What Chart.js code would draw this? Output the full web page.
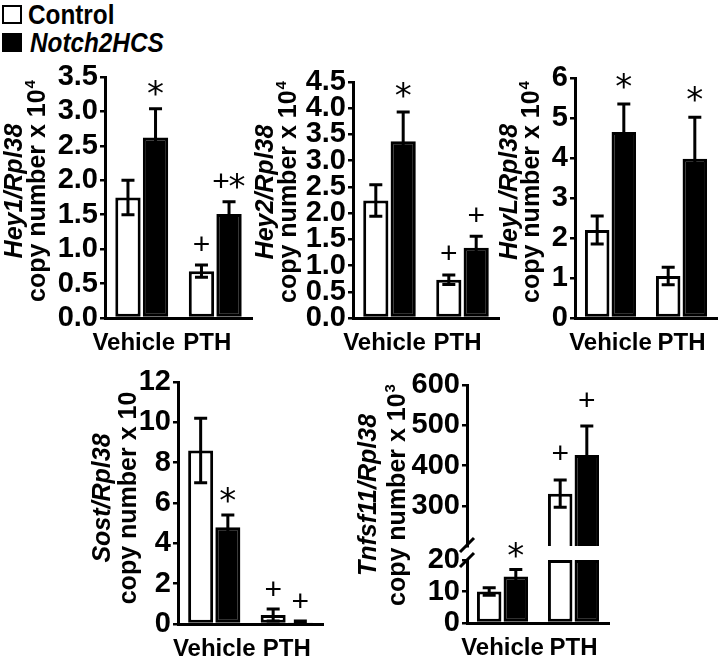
<!DOCTYPE html>
<html>
<head>
<meta charset="utf-8">
<script src="https://cdn.jsdelivr.net/npm/chart.js@4.4.0/dist/chart.umd.min.js"></script>
<style>
  body { margin: 0; background: #fff; width: 719px; height: 659px; position: relative; overflow: hidden; }
  canvas { position: absolute; }
  .box { position: absolute; left: 2px; width: 16px; height: 15px; border: 2.5px solid #000; }
  .lt { position: absolute; font: bold 27px "Liberation Sans", Arial, sans-serif; line-height: 27px;
        transform: scaleX(0.9); transform-origin: left top; white-space: nowrap; }
</style>
</head>
<body>
<div class="box" style="top:5px;background:#fff"></div>
<div class="lt" style="left:28px;top:2px">Control</div>
<div class="box" style="top:33px;background:#000"></div>
<div class="lt" style="left:30px;top:30px;font-style:italic">Notch2HCS</div>
<script>
const groups = ['Vehicle', 'PTH'];

const hey1Control = [1.75, 0.68];
const hey1ControlErr = [0.25, 0.09];
const hey1Notch = [2.62, 1.51];
const hey1NotchErr = [0.42, 0.18];
const hey1ControlMarks = ['', '+'];
const hey1NotchMarks = ['*', '+*'];
const hey1Ticks = [0, 0.5, 1.0, 1.5, 2.0, 2.5, 3.0, 3.5];

const hey2Control = [2.24, 0.73];
const hey2ControlErr = [0.3, 0.09];
const hey2Notch = [3.37, 1.34];
const hey2NotchErr = [0.56, 0.22];
const hey2ControlMarks = ['', '+'];
const hey2NotchMarks = ['*', '+'];
const hey2Ticks = [0, 0.5, 1.0, 1.5, 2.0, 2.5, 3.0, 3.5, 4.0, 4.5];

const heyLControl = [2.2, 1.05];
const heyLControlErr = [0.35, 0.22];
const heyLNotch = [4.65, 3.98];
const heyLNotchErr = [0.7, 1.04];
const heyLControlMarks = ['', ''];
const heyLNotchMarks = ['*', '*'];
const heyLTicks = [0, 1, 2, 3, 4, 5, 6];

const sostControl = [8.6, 0.45];
const sostControlErr = [1.6, 0.3];
const sostNotch = [4.8, 0.05];
const sostNotchErr = [0.6, 0.1];
const sostControlMarks = ['', '+'];
const sostNotchMarks = ['*', '+'];
const sostTicks = [0, 2, 4, 6, 8, 10, 12];

const tnfControl = [10, 330];
const tnfControlErr = [1.2, 34];
const tnfNotch = [14.8, 426];
const tnfNotchErr = [2.2, 72];
const tnfControlMarks = ['', '+'];
const tnfNotchMarks = ['*', '+'];
const tnfLowTicks = [0, 10, 20];
const tnfHighTicks = [300, 400, 500, 600];

const FONT = '"Liberation Sans", Arial, sans-serif';

function drawMarks(ctx, text, x, yc) {
  const chars = text.split('');
  const step = 16;
  chars.forEach((ch, k) => {
    ctx.font = ch === '*' ? '34px "DejaVu Sans", sans-serif' : '30px ' + FONT;
    const m = ctx.measureText(ch);
    const cx = x + (k - (chars.length - 1) / 2) * step;
    ctx.fillText(ch, cx, yc + (m.actualBoundingBoxAscent - m.actualBoundingBoxDescent) / 2);
  });
}

function drawTitle(ctx, o) {
  ctx.save();
  ctx.fillStyle = '#000';
  ctx.textBaseline = 'alphabetic';
  ctx.translate(o.t1x - o.L, o.ty - o.T);
  ctx.rotate(-Math.PI / 2);
  ctx.textAlign = 'center';
  ctx.font = 'italic bold 25px ' + FONT;
  ctx.fillText(o.title1, 0, 0);
  ctx.restore();

  ctx.save();
  ctx.fillStyle = '#000';
  ctx.textBaseline = 'alphabetic';
  ctx.translate(o.t2x - o.L, o.ty - o.T);
  ctx.rotate(-Math.PI / 2);
  const main = 'copy number x 10';
  ctx.font = 'bold 25px ' + FONT;
  const w1 = ctx.measureText(main).width;
  ctx.font = 'bold 15px ' + FONT;
  const w2 = o.sup ? ctx.measureText(o.sup).width + 1 : 0;
  const x0 = -(w1 + w2) / 2;
  ctx.textAlign = 'left';
  ctx.font = 'bold 25px ' + FONT;
  ctx.fillText(main, x0, 0);
  if (o.sup) {
    ctx.font = 'bold 15px ' + FONT;
    ctx.fillText(o.sup, x0 + w1 + 1, -10);
  }
  ctx.restore();
}

function panel(o) {
  const cv = document.createElement('canvas');
  cv.width = o.W; cv.height = o.H;
  cv.style.left = o.L + 'px'; cv.style.top = o.T + 'px';
  document.body.appendChild(cv);

  const inRange = v => v >= o.min && v <= o.max;
  const shown = arr => arr.map(v => v > o.max ? o.max : (v < o.min ? null : v));
  const showX = o.showX !== false;

  const extras = {
    id: 'extras',
    afterDatasetsDraw(chart) {
      const ctx = chart.ctx;
      const ys = chart.scales.y;
      const series = [o.control, o.notch];
      const errs = [o.controlErr, o.notchErr];
      const marks = [o.controlMarks, o.notchMarks];
      ctx.save();
      ctx.strokeStyle = '#000';
      ctx.fillStyle = '#000';
      ctx.lineWidth = 3;
      series.forEach((vals, di) => {
        const meta = chart.getDatasetMeta(di);
        vals.forEach((v, i) => {
          if (!inRange(v)) return;
          const x = meta.data[i].x;
          const yTop = ys.getPixelForValue(v + errs[di][i]);
          const yBot = ys.getPixelForValue(Math.max(v - errs[di][i], o.min));
          ctx.beginPath();
          ctx.moveTo(x, yTop); ctx.lineTo(x, yBot);
          ctx.moveTo(x - 6.5, yTop); ctx.lineTo(x + 6.5, yTop);
          ctx.moveTo(x - 6.5, yBot); ctx.lineTo(x + 6.5, yBot);
          ctx.stroke();
          if (marks[di][i]) {
            ctx.textAlign = 'center';
            ctx.textBaseline = 'alphabetic';
            drawMarks(ctx, marks[di][i], x, yTop - o.markGap);
          }
        });
      });
      ctx.restore();
      if (o.title1) drawTitle(ctx, o);
      if (o.breakMarks) {
        ctx.save();
        ctx.strokeStyle = '#000';
        ctx.lineWidth = 3;
        ctx.beginPath();
        o.breakMarks.forEach(b => {
          ctx.moveTo(b[0] - o.L, b[1] - o.T);
          ctx.lineTo(b[2] - o.L, b[3] - o.T);
        });
        ctx.stroke();
        ctx.restore();
      }
    }
  };

  return new Chart(cv, {
    type: 'bar',
    data: {
      labels: groups,
      datasets: [
        { label: 'Control', data: shown(o.control), backgroundColor: '#fff', borderColor: '#000', borderWidth: 3, borderSkipped: false },
        { label: 'Notch2HCS', data: shown(o.notch), backgroundColor: '#000', borderColor: '#000', borderWidth: 3, borderSkipped: false }
      ]
    },
    options: {
      responsive: false,
      animation: false,
      devicePixelRatio: 1,
      layout: { padding: { left: 0, top: o.area.t - o.T, right: o.L + o.W - o.area.r, bottom: 0 } },
      plugins: { legend: { display: false }, tooltip: { enabled: false } },
      datasets: { bar: { categoryPercentage: 0.75, barPercentage: 0.92 } },
      scales: {
        x: {
          grid: { display: false },
          border: { display: showX, color: '#000', width: 3 },
          ticks: { display: showX, color: '#000', padding: 3, labelOffset: o.labelOffset || 0,
                   autoSkip: false, maxRotation: 0, minRotation: 0,
                   font: { family: FONT, size: 24, weight: 'bold' } },
          afterFit: s => { s.height = o.T + o.H - o.area.b; }
        },
        y: {
          min: o.min,
          max: o.max,
          afterBuildTicks: s => { s.ticks = o.ticks.map(v => ({ value: v })); },
          ticks: { color: '#000', padding: 2, autoSkip: false,
                   font: { family: FONT, size: 29, weight: 'bold' },
                   callback: v => v.toFixed(o.dec || 0) },
          grid: { drawOnChartArea: false, color: '#000', lineWidth: 2.5, tickLength: 5 },
          border: { color: '#000', width: 3 },
          afterFit: s => { s.width = o.area.l - o.L; }
        }
      }
    },
    plugins: [extras]
  });
}

panel({ L: 0, T: 55, W: 262, H: 305, area: { l: 105, t: 77, r: 252, b: 318 },
  control: hey1Control, controlErr: hey1ControlErr, notch: hey1Notch, notchErr: hey1NotchErr,
  controlMarks: hey1ControlMarks, notchMarks: hey1NotchMarks, ticks: hey1Ticks, min: 0, max: 3.5, dec: 1,
  markGap: 21, labelOffset: -8, title1: 'Hey1/Rpl38', sup: '4', t1x: 22, t2x: 45, ty: 191 });

panel({ L: 250, T: 55, W: 252, H: 305, area: { l: 353, t: 82, r: 499, b: 318 },
  control: hey2Control, controlErr: hey2ControlErr, notch: hey2Notch, notchErr: hey2NotchErr,
  controlMarks: hey2ControlMarks, notchMarks: hey2NotchMarks, ticks: hey2Ticks, min: 0, max: 4.5, dec: 1,
  markGap: 22, labelOffset: -5, title1: 'Hey2/Rpl38', sup: '4', t1x: 273, t2x: 296, ty: 192 });

panel({ L: 495, T: 55, W: 224, H: 305, area: { l: 575, t: 78, r: 717, b: 318 },
  control: heyLControl, controlErr: heyLControlErr, notch: heyLNotch, notchErr: heyLNotchErr,
  controlMarks: heyLControlMarks, notchMarks: heyLNotchMarks, ticks: heyLTicks, min: 0, max: 6, dec: 0,
  markGap: 23, title1: 'HeyL/Rpl38', sup: '4', t1x: 517, t2x: 539, ty: 192 });

panel({ L: 80, T: 360, W: 250, H: 299, area: { l: 178, t: 382, r: 323, b: 624 },
  control: sostControl, controlErr: sostControlErr, notch: sostNotch, notchErr: sostNotchErr,
  controlMarks: sostControlMarks, notchMarks: sostNotchMarks, ticks: sostTicks, min: 0, max: 12, dec: 0,
  markGap: 20, title1: 'Sost/Rpl38', sup: '', t1x: 110, t2x: 136, ty: 498 });

panel({ L: 330, T: 360, W: 290, H: 299, area: { l: 467, t: 560, r: 609, b: 623 },
  control: tnfControl, controlErr: tnfControlErr, notch: tnfNotch, notchErr: tnfNotchErr,
  controlMarks: tnfControlMarks, notchMarks: tnfNotchMarks, ticks: tnfLowTicks, min: 0, max: 20, dec: 0,
  markGap: 19, title1: 'Tnfsf11/Rpl38', sup: '3', t1x: 376, t2x: 405, ty: 495,
  breakMarks: [[460, 552, 474, 538], [460, 567, 474, 553]] });

panel({ L: 330, T: 360, W: 290, H: 299, area: { l: 467, t: 385, r: 609, b: 546 },
  control: tnfControl, controlErr: tnfControlErr, notch: tnfNotch, notchErr: tnfNotchErr,
  controlMarks: tnfControlMarks, notchMarks: tnfNotchMarks, ticks: tnfHighTicks, min: 200, max: 600, dec: 0,
  markGap: 27, showX: false });
</script>
</body>
</html>
